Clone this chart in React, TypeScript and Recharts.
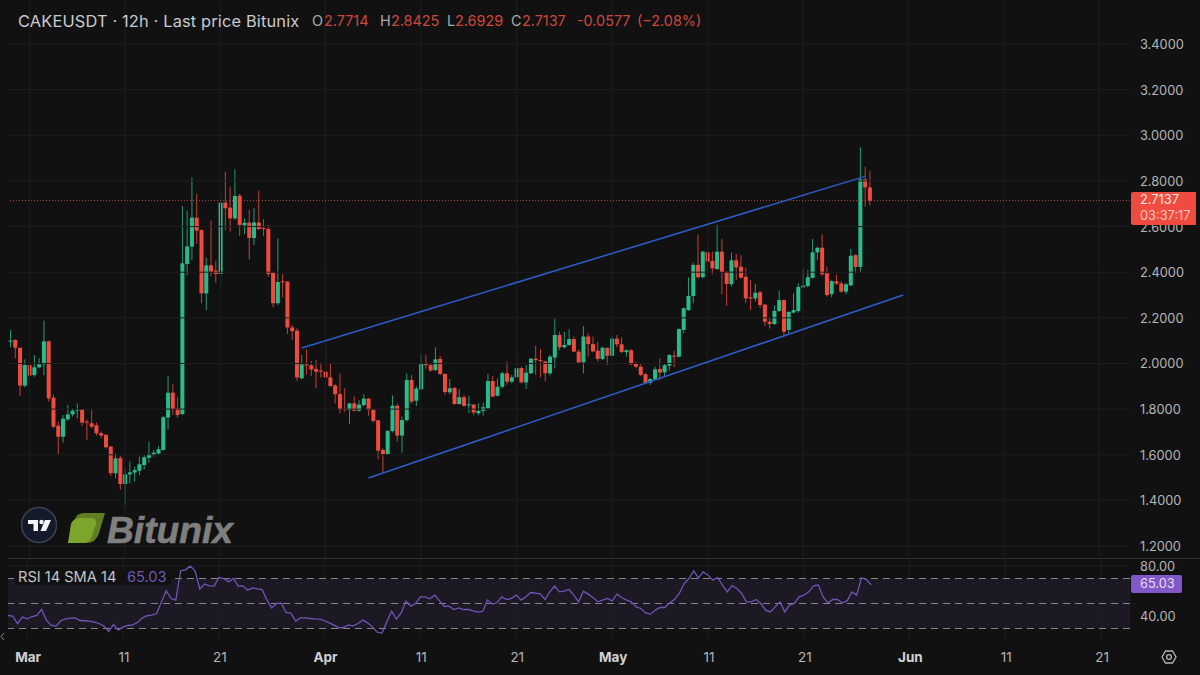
import React from "react";
import { ComposedChart, Bar, Line, XAxis, YAxis, ReferenceLine, ReferenceArea } from "recharts";

// [open, high, low, close] for each 12h candle
const ohlc: number[][] = [
[2.096,2.147,2.071,2.100],[2.103,2.106,2.023,2.069],[2.069,2.069,1.859,1.903],[1.903,2.018,1.895,1.993],[1.993,2.037,1.939,1.947],
[1.949,2.037,1.942,1.983],[1.983,2.023,1.979,1.996],[1.996,2.188,1.949,2.097],[2.097,2.100,1.833,1.847],[1.850,1.862,1.716,1.723],
[1.727,1.745,1.603,1.679],[1.679,1.774,1.653,1.758],[1.755,1.818,1.749,1.777],[1.777,1.803,1.767,1.793],[1.795,1.825,1.760,1.798],
[1.798,1.800,1.726,1.741],[1.745,1.755,1.665,1.741],[1.738,1.796,1.716,1.723],[1.729,1.741,1.685,1.694],[1.695,1.701,1.672,1.684],
[1.687,1.691,1.628,1.633],[1.636,1.638,1.507,1.519],[1.519,1.606,1.497,1.584],[1.586,1.595,1.446,1.472],[1.472,1.540,1.380,1.514],
[1.514,1.570,1.475,1.523],[1.522,1.548,1.482,1.533],[1.530,1.592,1.511,1.558],[1.555,1.599,1.536,1.589],[1.587,1.657,1.565,1.602],
[1.599,1.621,1.592,1.609],[1.606,1.638,1.599,1.624],[1.621,1.770,1.618,1.764],[1.763,1.945,1.711,1.872],[1.872,1.909,1.774,1.799],
[1.803,1.852,1.763,1.774],[1.779,2.690,1.774,2.439],[2.436,2.670,2.388,2.513],[2.512,2.814,2.453,2.639],[2.639,2.743,2.524,2.582],
[2.585,2.588,2.264,2.307],[2.307,2.465,2.234,2.430],[2.430,2.626,2.383,2.402],[2.407,2.451,2.354,2.392],[2.392,2.743,2.344,2.705],
[2.705,2.841,2.585,2.680],[2.683,2.775,2.578,2.636],[2.636,2.851,2.629,2.734],[2.735,2.743,2.559,2.607],[2.605,2.636,2.567,2.616],
[2.617,2.673,2.456,2.550],[2.550,2.680,2.519,2.618],[2.618,2.757,2.585,2.589],[2.594,2.632,2.559,2.589],[2.589,2.607,2.380,2.392],
[2.398,2.402,2.246,2.264],[2.264,2.548,2.256,2.357],[2.360,2.392,2.290,2.357],[2.359,2.360,2.129,2.158],[2.158,2.169,2.103,2.142],
[2.144,2.154,1.925,1.939],[1.935,2.037,1.931,1.996],[1.996,2.062,1.950,1.992],[1.992,2.011,1.945,1.974],[1.976,2.015,1.891,1.964],
[1.969,2.004,1.938,1.964],[1.964,2.074,1.935,1.939],[1.939,2.001,1.898,1.901],[1.904,1.909,1.825,1.865],[1.866,1.957,1.782,1.799],
[1.801,1.891,1.789,1.796],[1.796,1.828,1.735,1.825],[1.825,1.855,1.789,1.793],[1.793,1.840,1.789,1.820],[1.818,1.865,1.811,1.846],
[1.846,1.849,1.771,1.796],[1.798,1.799,1.741,1.748],[1.751,1.752,1.580,1.618],[1.621,1.628,1.522,1.603],[1.603,1.709,1.599,1.704],
[1.704,1.860,1.698,1.815],[1.815,1.825,1.657,1.684],[1.684,1.767,1.609,1.752],[1.752,1.957,1.745,1.928],[1.928,1.950,1.825,1.833],
[1.837,1.901,1.814,1.890],[1.887,2.040,1.884,2.001],[2.001,2.037,1.976,1.993],[1.993,2.001,1.964,1.969],[1.971,2.071,1.967,2.018],
[2.020,2.033,1.950,1.954],[1.954,1.957,1.862,1.875],[1.874,1.932,1.866,1.891],[1.893,1.896,1.820,1.822],[1.822,1.887,1.820,1.852],
[1.852,1.862,1.811,1.814],[1.818,1.858,1.782,1.821],[1.820,1.822,1.773,1.785],[1.782,1.825,1.773,1.792],[1.792,1.830,1.771,1.808],
[1.804,1.954,1.799,1.923],[1.923,1.945,1.852,1.855],[1.859,1.935,1.855,1.898],[1.898,1.964,1.891,1.957],[1.957,2.008,1.906,1.920],
[1.920,1.950,1.913,1.939],[1.939,2.040,1.935,1.979],[1.980,1.986,1.913,1.917],[1.917,1.993,1.888,1.960],[1.957,2.024,1.954,2.021],
[2.021,2.078,1.950,2.015],[2.015,2.063,1.939,2.012],[2.009,2.012,1.922,1.957],[1.957,2.037,1.948,2.030],[2.026,2.198,1.979,2.125],
[2.125,2.139,2.059,2.071],[2.071,2.139,2.066,2.081],[2.081,2.150,2.077,2.107],[2.107,2.118,2.049,2.052],[2.052,2.062,2.001,2.005],
[2.005,2.164,1.957,2.118],[2.118,2.132,2.030,2.085],[2.085,2.118,2.049,2.053],[2.056,2.096,2.008,2.020],[2.020,2.074,2.015,2.069],
[2.068,2.071,1.993,2.034],[2.034,2.118,2.033,2.109],[2.109,2.125,2.071,2.084],[2.084,2.115,2.045,2.050],[2.050,2.062,2.030,2.058],
[2.058,2.063,1.993,1.996],[1.998,2.008,1.979,1.986],[1.986,2.001,1.945,1.950],[1.953,1.957,1.913,1.916],[1.916,1.935,1.906,1.932],
[1.932,1.986,1.928,1.974],[1.976,2.023,1.928,1.960],[1.961,1.998,1.942,1.992],[1.990,2.040,1.968,2.037],[2.034,2.056,1.983,2.030],
[2.030,2.154,2.027,2.151],[2.147,2.245,2.132,2.242],[2.234,2.378,2.231,2.296],[2.296,2.442,2.264,2.432],[2.432,2.566,2.372,2.378],
[2.378,2.493,2.373,2.490],[2.487,2.519,2.402,2.446],[2.449,2.490,2.391,2.417],[2.414,2.607,2.410,2.490],[2.490,2.546,2.304,2.401],
[2.401,2.405,2.253,2.348],[2.348,2.486,2.337,2.452],[2.452,2.480,2.366,2.421],[2.424,2.474,2.373,2.376],[2.380,2.420,2.264,2.285],
[2.290,2.366,2.234,2.285],[2.285,2.348,2.271,2.310],[2.312,2.319,2.242,2.256],[2.258,2.261,2.164,2.183],[2.183,2.202,2.153,2.173],
[2.173,2.253,2.169,2.230],[2.230,2.319,2.227,2.278],[2.278,2.281,2.125,2.139],[2.147,2.229,2.129,2.226],[2.223,2.307,2.220,2.234],
[2.230,2.351,2.223,2.335],[2.334,2.414,2.329,2.341],[2.340,2.410,2.334,2.378],[2.375,2.546,2.372,2.487],[2.487,2.512,2.453,2.507],
[2.507,2.566,2.383,2.391],[2.395,2.424,2.293,2.300],[2.304,2.364,2.290,2.361],[2.360,2.391,2.344,2.350],[2.351,2.361,2.310,2.315],
[2.315,2.354,2.304,2.347],[2.342,2.503,2.340,2.472],[2.475,2.478,2.395,2.423],[2.423,2.947,2.398,2.807],[2.807,2.862,2.687,2.772],
[2.7714,2.8425,2.6929,2.7137],
];

const rsiValues: number[] = [
40.4,39.9,34.0,39.1,37.7,39.6,40.4,45.2,36.7,32.7,31.9,36.2,37.7,38.3,38.5,36.4,36.2,35.9,35.1,34.0,
31.9,27.6,33.2,28.7,31.3,32.4,32.9,34.8,38.3,40.2,40.7,42.0,51.3,60.1,54.0,52.7,76.1,76.9,79.9,76.1,
61.7,65.5,64.1,63.9,70.8,70.0,67.3,70.0,63.9,64.1,60.7,62.5,61.7,61.2,52.7,46.5,50.0,50.3,42.8,42.3,
35.9,38.5,38.5,38.0,37.7,37.5,36.2,34.5,32.7,30.5,30.8,32.9,32.1,34.0,36.7,34.5,31.3,27.1,26.3,35.3,
43.9,37.5,42.5,51.9,47.9,50.0,55.3,55.3,53.7,56.7,52.1,47.6,47.9,45.2,46.5,45.2,45.2,44.1,43.1,43.6,
52.7,49.5,50.8,55.3,53.2,54.0,56.7,52.7,55.3,58.8,58.3,57.7,53.2,59.3,63.9,59.3,59.9,61.2,56.7,51.3,
59.9,57.5,54.8,51.3,52.7,54.0,52.1,57.5,54.8,52.7,51.3,47.3,46.0,42.5,41.5,44.7,46.8,46.8,50.5,53.2,
58.0,66.0,70.0,76.1,70.5,75.3,72.7,68.7,70.8,64.7,59.3,64.4,62.0,58.0,51.3,51.3,53.2,50.0,44.7,43.3,
47.3,51.3,43.3,48.7,50.0,55.3,56.7,59.3,64.1,64.9,55.3,50.5,53.2,53.2,50.5,52.1,59.3,56.7,70.5,69.2,
65.03,
];

const tickIdx = [4, 24, 44, 66, 86, 106, 126, 146, 166, 188, 208, 228];
const tickText = ["Mar", "11", "21", "Apr", "11", "21", "May", "11", "21", "Jun", "11", "21"];
const monthNames = ["Mar", "Apr", "May", "Jun"];
const priceTicks = [1.2, 1.4, 1.6, 1.8, 2.0, 2.2, 2.4, 2.6, 2.8, 3.0, 3.2, 3.4];
const rsiTicks = [80, 40];
const rsiGrid = [80, 40];
const rsiDashes = [70, 50, 30];
const lastPrice = 2.7137;
const upperChannel = [{ x: 61, y: 2.068 }, { x: 179, y: 2.82 }];
const lowerChannel = [{ x: 75, y: 1.498 }, { x: 187, y: 2.3 }];
const SLOTS = 235;

const rows = Array.from({ length: SLOTS }, (_, i) => {
  const c = ohlc[i];
  return {
    idx: i,
    open: c ? c[0] : undefined,
    high: c ? c[1] : undefined,
    low: c ? c[2] : undefined,
    close: c ? c[3] : undefined,
    rsi: i < rsiValues.length ? rsiValues[i] : undefined,
  };
});

const FONT = "Inter, 'Noto Sans', sans-serif";
const BG = "#111112";
const GRID = "#1d1e20";
const UP = "#2abb8b";
const DOWN = "#f04b3f";
const AXIS_TEXT = "#b4b5b8";

function Candle(props: any) {
  const { x, y, width, height, payload } = props;
  if (!payload || payload.high == null) return null;
  const h = Math.abs(height);
  const top = height >= 0 ? y : y + height;
  const perUnit = h / (payload.high - payload.low);
  const yOf = (v: number) => top + (payload.high - v) * perUnit;
  const up = payload.close >= payload.open;
  const color = up ? UP : DOWN;
  const cx = x + width / 2;
  const bw = width * 0.8;
  const bTop = yOf(Math.max(payload.open, payload.close));
  const bBot = yOf(Math.min(payload.open, payload.close));
  return (
    <g>
      <line x1={cx} x2={cx} y1={top} y2={top + h} stroke={color} strokeWidth={1} strokeOpacity={0.8} />
      <rect x={cx - bw / 2} y={bTop} width={bw} height={Math.max(bBot - bTop, 1)} fill={color} />
    </g>
  );
}

function PriceTick(props: any) {
  return (
    <text x={props.x + 2} y={props.y + 5} fill={AXIS_TEXT} fontSize={12.8} fontFamily={FONT} textAnchor="start">
      {Number(props.payload.value).toFixed(4)}
    </text>
  );
}
function RsiTick(props: any) {
  return (
    <text x={props.x + 2} y={props.y + 5} fill={AXIS_TEXT} fontSize={12.8} fontFamily={FONT} textAnchor="start">
      {Number(props.payload.value).toFixed(2)}
    </text>
  );
}
function TimeTick(props: any) {
  const label = tickText[tickIdx.indexOf(Number(props.payload.value))];
  const month = monthNames.includes(label);
  return (
    <text x={props.x + 1} y={104} fill={month ? "#d0d1d4" : AXIS_TEXT} fontSize={13.5} fontWeight={month ? 700 : 400} fontFamily={FONT} textAnchor="middle">
      {label}
    </text>
  );
}

const abs = (left: number, top: number, color: string, text: string, size = 14, extra: any = {}) => (
  <div style={{ position: "absolute", left, top, color, fontSize: size, fontFamily: FONT, lineHeight: "18px", whiteSpace: "nowrap", ...extra }}>{text}</div>
);

export default function App() {
  return (
    <div style={{ position: "fixed", left: 0, top: 0, width: 1200, height: 675, background: BG, overflow: "hidden" }}>
      <div style={{ position: "absolute", left: 0, top: 0 }}>
        <ComposedChart width={1200} height={558} data={rows} margin={{ left: 8, right: 0, top: 0, bottom: 0 }} barCategoryGap={0}>
          <XAxis dataKey="idx" type="category" hide padding={{ left: 0, right: 0 }} />
          <YAxis orientation="right" type="number" width={70} domain={[1.1476, 3.5928]} allowDataOverflow ticks={priceTicks} tick={PriceTick} tickLine={false} axisLine={false} interval={0} />
          {tickIdx.map((t) => <ReferenceLine key={"v" + t} x={t} stroke={GRID} strokeWidth={1} />)}
          {priceTicks.map((t) => <ReferenceLine key={"h" + t} y={t} stroke={GRID} strokeWidth={1} />)}
          <Bar dataKey={(d: any) => (d.high == null ? null : [d.low, d.high])} shape={Candle} isAnimationActive={false} />
          <ReferenceLine y={lastPrice} stroke="#f2584c" strokeOpacity={0.75} strokeWidth={1} strokeDasharray="1 2" />
          <ReferenceLine segment={upperChannel} stroke="#2e5cc9" strokeWidth={1.5} ifOverflow="visible" />
          <ReferenceLine segment={lowerChannel} stroke="#2e5cc9" strokeWidth={1.5} ifOverflow="visible" />
        </ComposedChart>
      </div>

      <div style={{ position: "absolute", left: 0, top: 558 }}>
        <ComposedChart width={1200} height={117} data={rows} margin={{ left: 8, right: 0, top: 0, bottom: 0 }} barCategoryGap={0}>
          <XAxis dataKey="idx" type="category" height={35} ticks={tickIdx} interval={0} tick={TimeTick} tickLine={false} axisLine={false} padding={{ left: 0, right: 0 }} />
          <YAxis orientation="right" type="number" width={70} domain={[20.8, 86.4]} allowDataOverflow ticks={rsiTicks} tick={RsiTick} tickLine={false} axisLine={false} interval={0} />
          <ReferenceArea y1={30} y2={70} fill="#7e57c2" fillOpacity={0.1} stroke="none" />
          {tickIdx.map((t) => <ReferenceLine key={"v" + t} x={t} stroke={GRID} strokeWidth={1} />)}
          {rsiGrid.map((t) => <ReferenceLine key={"h" + t} y={t} stroke={GRID} strokeWidth={1} />)}
          {rsiDashes.map((t) => <ReferenceLine key={"d" + t} y={t} stroke="#85858b" strokeWidth={1} strokeDasharray="7 5" />)}
          <Line dataKey="rsi" stroke="#6f55b4" strokeWidth={1.3} dot={false} isAnimationActive={false} />
        </ComposedChart>
      </div>

      {/* pane separator */}
      <div style={{ position: "absolute", left: 8, top: 558, width: 1192, height: 1, background: "#2b2d33" }} />

      {/* header */}
      {abs(18, 12, "#c9cacd", "CAKEUSDT · 12h · Last price Bitunix", 16.4, { letterSpacing: "0.15px" })}
      {abs(312, 12, "#a9aaad", "O", 14.4)}
      {abs(324, 12, "#cf473c", "2.7714", 14.4)}
      {abs(380, 12, "#a9aaad", "H", 14.4)}
      {abs(391, 12, "#cf473c", "2.8425", 14.4)}
      {abs(447, 12, "#a9aaad", "L", 14.4)}
      {abs(455, 12, "#cf473c", "2.6929", 14.4)}
      {abs(511, 12, "#a9aaad", "C", 14.4)}
      {abs(522, 12, "#cf473c", "2.7137", 14.4)}
      {abs(577, 12, "#cf473c", "-0.0577", 14.4)}
      {abs(637, 12, "#cf473c", "(−2.08%)", 14.4)}

      {/* last price badge */}
      <div style={{ position: "absolute", left: 1131, top: 192, width: 65, height: 33, background: DOWN, borderRadius: "2px 0 0 2px" }} />
      {abs(1140, 191, "#f3ece9", "2.7137", 12.8)}
      {abs(1140, 207, "#f7c9c3", "03:37:17", 12.8)}

      {/* RSI legend and badge */}
      <div style={{ position: "absolute", left: 15, top: 570, width: 156, height: 15, background: BG }} />
      {abs(18, 568, "#c4c5c8", "RSI 14 SMA 14", 14.6)}
      {abs(127, 568, "#6f55b4", "65.03", 14.6)}
      <div style={{ position: "absolute", left: 1131, top: 575, width: 51, height: 18, background: "#8058c8", borderRadius: 2 }} />
      {abs(1140, 575, "#e6def5", "65.03", 12.8)}

      {/* watermark logos, gear and chevron */}
      <svg width={1200} height={675} style={{ position: "absolute", left: 0, top: 0, pointerEvents: "none" }}>
        <circle cx={39} cy={525} r={17.5} fill="#141a2a" stroke="#3b4150" strokeWidth={1.5} />
        <path d="M28 520 H38 V531 H33.5 V524 H28 Z" fill="#f2f3f5" />
        <circle cx={41.5} cy={522} r={2.2} fill="#f2f3f5" />
        <path d="M45 520 H51 L46 531 H40.5 Z" fill="#f2f3f5" />
        <path d="M75 519 Q77 513 84 513 L105 513 L99 533 Q96 543 86 543 L68 543 Z" fill="#5f7f22" />
        <path d="M71 524 Q73 518 81 518 L91 518 Q97 518 96 524 L92 536 Q90 543 84 543 L68 543 Z" fill="#7ea52b" />
        <text x={107} y={543} fontFamily="'Liberation Sans', sans-serif" fontWeight={700} fontStyle="italic" fontSize={37} fill="#7f7f80" stroke="#7f7f80" strokeWidth={0.6} textLength={126} lengthAdjust="spacingAndGlyphs">Bitunix</text>
        <polygon points="1162,657 1165.5,651 1172.5,651 1176,657 1172.5,663 1165.5,663" fill="none" stroke="#b4b5b8" strokeWidth={1.3} />
        <circle cx={1169} cy={657} r={2.4} fill="none" stroke="#b4b5b8" strokeWidth={1.3} />
        <path d="M4 633 L1 636.5 L4 640" fill="none" stroke="#8b8c90" strokeWidth={1} />
      </svg>
    </div>
  );
}
